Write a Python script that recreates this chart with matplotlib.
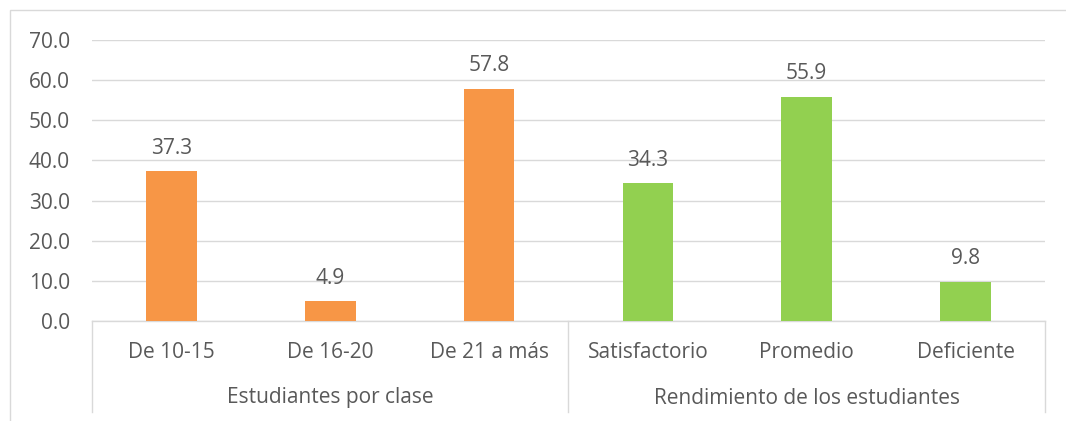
import matplotlib
matplotlib.use("Agg")
import matplotlib.pyplot as plt
import matplotlib.transforms as mtransforms
from matplotlib.lines import Line2D
from matplotlib.patches import Rectangle

groups = ["Estudiantes por clase", "Rendimiento de los estudiantes"]
group_sizes = [3, 3]
categories = ["De 10-15", "De 16-20", "De 21 a más",
              "Satisfactorio", "Promedio", "Deficiente"]
values = [37.3, 4.9, 57.8, 34.3, 55.9, 9.8]
colors = ["#F79646"] * 3 + ["#92D050"] * 3

TEXT = "#595959"
LINE = "#D9D9D9"
FS = 15
plt.rcParams["font.family"] = ["Open Sans", "DejaVu Sans"]

W, H = 1066, 421
fig = plt.figure(figsize=(W / 100, H / 100), dpi=100)
ax = fig.add_axes([92 / W, (H - 321) / H, (1045 - 92) / W, (321 - 40) / H])

x = list(range(len(categories)))
ax.bar(x, values, width=0.32, color=colors, zorder=3)
for xi, v in zip(x, values):
    ax.annotate(f"{v:.1f}", (xi, v), xytext=(0, 9), textcoords="offset points",
                ha="center", va="bottom", fontsize=FS, color=TEXT)

ax.set_xlim(-0.5, len(categories) - 0.5)
ax.set_ylim(0, 70)
ax.set_yticks(range(0, 71, 10))
ax.set_yticklabels([f"{t:.1f}" for t in range(0, 71, 10)])
ax.tick_params(axis="y", length=0, pad=16, labelsize=FS, labelcolor=TEXT)
ax.set_xticks([])
ax.grid(axis="y", color=LINE, linewidth=1, zorder=0)
for s in ["top", "right", "left"]:
    ax.spines[s].set_visible(False)
ax.spines["bottom"].set_color(LINE)
ax.spines["bottom"].set_linewidth(1)

# multi-level category axis
tr = mtransforms.blended_transform_factory(ax.transData, ax.transAxes)
ah = 321 - 40
for xi, c in zip(x, categories):
    ax.text(xi, -32 / ah, c, transform=tr, ha="center", va="center",
            fontsize=FS, color=TEXT)
start = 0
seps = [-0.5]
for g, n in zip(groups, group_sizes):
    mid = start + (n - 1) / 2
    ax.text(mid, -77 / ah, g, transform=tr, ha="center", va="center",
            fontsize=FS, color=TEXT)
    start += n
    seps.append(start - 0.5)
for sx in seps:
    ax.add_line(Line2D([sx, sx], [0, -91 / ah], transform=tr, color=LINE,
                       linewidth=1, clip_on=False))

# chart area border (right and bottom edges fall outside the picture)
fig.patches.append(Rectangle((10 / W, -0.1), 0.2 + (W - 10) / W, (H - 10) / H + 0.1,
                             transform=fig.transFigure, fill=False,
                             edgecolor=LINE, linewidth=1))

fig.savefig("out.png", dpi=100)
